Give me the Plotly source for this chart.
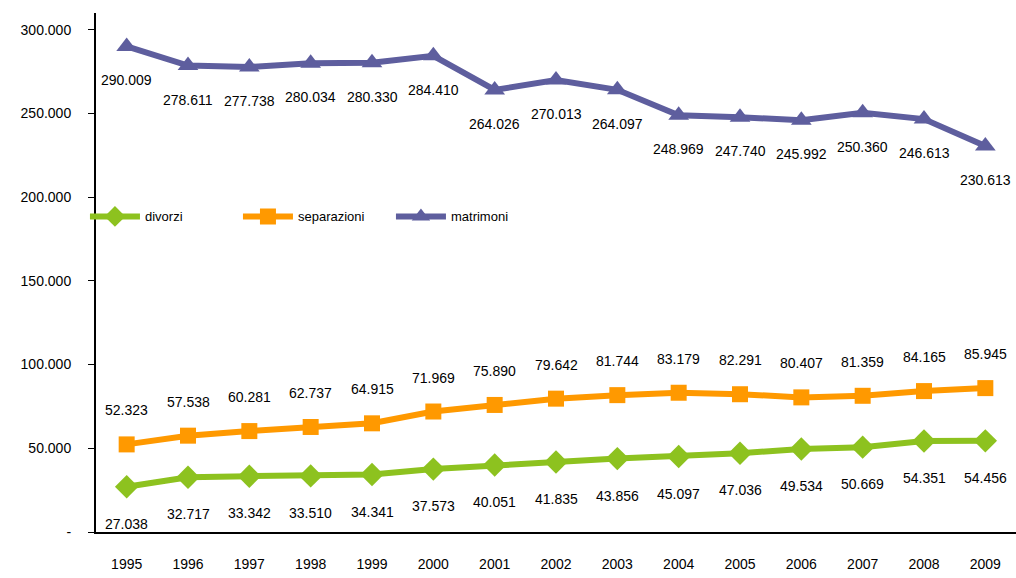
import plotly.graph_objects as go

years = list(range(1995, 2010))
divorzi = [27038, 32717, 33342, 33510, 34341, 37573, 40051, 41835, 43856, 45097, 47036, 49534, 50669, 54351, 54456]
separazioni = [52323, 57538, 60281, 62737, 64915, 71969, 75890, 79642, 81744, 83179, 82291, 80407, 81359, 84165, 85945]
matrimoni = [290009, 278611, 277738, 280034, 280330, 284410, 264026, 270013, 264097, 248969, 247740, 245992, 250360, 246613, 230613]

y_ticks = [0, 50000, 100000, 150000, 200000, 250000, 300000]
y_ticktext = ["-", "50.000", "100.000", "150.000", "200.000", "250.000", "300.000"]

def fmt(v):
    return f"{v:,}".replace(",", ".")

FONT = "Liberation Sans, Arial, sans-serif"
fig = go.Figure()
series = [
    ("divorzi", divorzi, "#8DC21F", "diamond", 18, -37),
    ("separazioni", separazioni, "#FF9900", "square", 16, 34),
    ("matrimoni", matrimoni, "#5E5E9E", "triangle-up", 18, -34),
]
for name, vals, col, sym, size, shift in series:
    fig.add_trace(go.Scatter(
        x=years, y=vals, name=name, mode="lines+markers",
        line=dict(color=col, width=6),
        marker=dict(symbol=sym, size=size, color=col),
    ))
    for x, v in zip(years, vals):
        fig.add_annotation(x=x, y=v, text=fmt(v), showarrow=False, yshift=shift,
                           font=dict(family=FONT, size=14, color="#000"))

fig.update_layout(
    width=1016, height=578,
    margin=dict(l=96, r=0, t=13, b=46),
    paper_bgcolor="white", plot_bgcolor="white",
    font=dict(family=FONT, size=13, color="#000"),
    showlegend=True,
    legend=dict(orientation="h", x=-0.012, y=0.608, xanchor="left", yanchor="middle",
                bgcolor="rgba(0,0,0,0)", font=dict(size=13), itemwidth=50,
                entrywidth=88, entrywidthmode="pixels"),
    xaxis=dict(range=[1994.5, 2009.5], tickvals=years, ticktext=[str(y) for y in years],
               showgrid=False, showline=True, linecolor="#000", linewidth=2,
               ticks="", ticklabelstandoff=18, zeroline=False, tickfont=dict(size=14)),
    yaxis=dict(range=[0, 310000], tickvals=y_ticks, ticktext=y_ticktext, showgrid=False,
               showline=True, linecolor="#000", linewidth=2, ticks="outside", ticklen=6,
               tickcolor="#000", zeroline=False, ticklabelstandoff=14, tickfont=dict(size=14)),
)
fig.write_html("out.html")
